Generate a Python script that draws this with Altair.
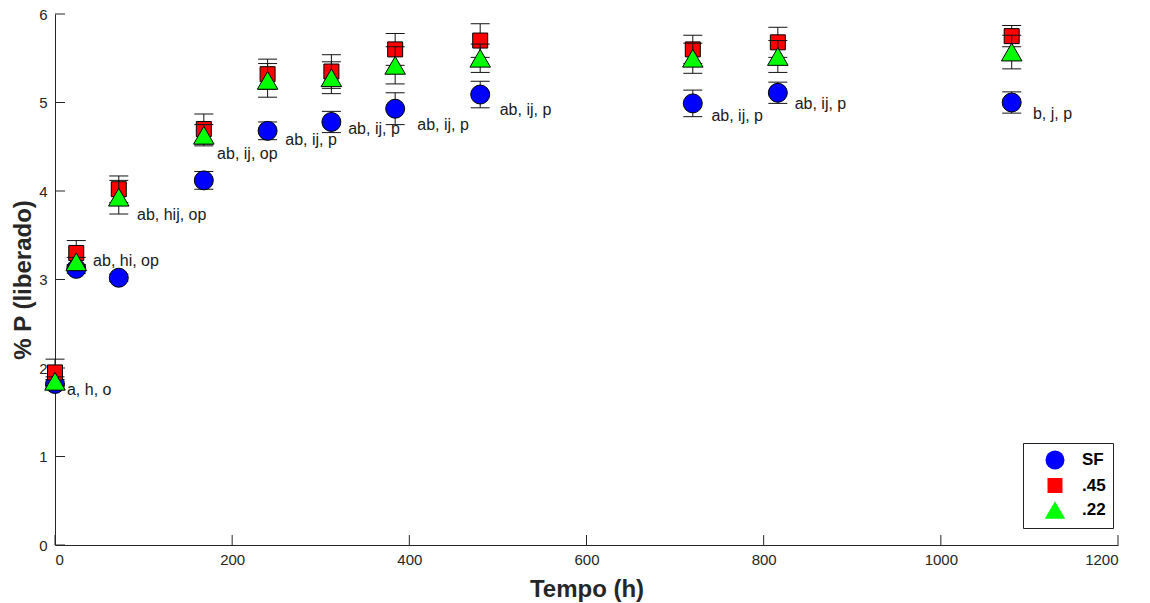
import altair as alt
import pandas as pd

# ---- data ----
tempo = [0, 24, 72, 168, 240, 312, 384, 480, 720, 816, 1080]
sf = [1.82, 3.12, 3.02, 4.12, 4.68, 4.78, 4.93, 5.09, 4.99, 5.11, 5.00]
sf_err = [0.05, 0.05, 0.04, 0.10, 0.10, 0.12, 0.18, 0.15, 0.15, 0.12, 0.12]
p45 = [1.95, 3.30, 4.02, 4.70, 5.32, 5.35, 5.60, 5.70, 5.60, 5.68, 5.75]
p45_err = [0.15, 0.14, 0.15, 0.17, 0.17, 0.19, 0.18, 0.19, 0.16, 0.17, 0.12]
p22 = [1.85, 3.20, 3.93, 4.63, 5.25, 5.28, 5.42, 5.50, 5.50, 5.52, 5.57]
p22_err = [0.05, 0.05, 0.19, 0.12, 0.19, 0.18, 0.21, 0.16, 0.17, 0.18, 0.19]

series_names = ["SF", ".45", ".22"]
series_fill = ["#0000ff", "#ff0000", "#00ff00"]
series_shape = ["circle", "square", "triangle-up"]
series_size = [360, 225, 420]

labels = ["a, h, o", "ab, hi, op", "ab, hij, op", "ab, ij, op", "ab, ij, p",
          "ab, ij, p", "ab, ij, p", "ab, ij, p", "ab, ij, p", "ab, ij, p", "b, j, p"]
label_x = [13.5, 43, 92.6, 183, 260, 331, 409, 502, 741, 835, 1104]
label_y = [1.75, 3.21, 3.73, 4.42, 4.58, 4.70, 4.75, 4.92, 4.85, 4.98, 4.87]

x_ticks = [0, 200, 400, 600, 800, 1000, 1200]
y_ticks = [0, 1, 2, 3, 4, 5, 6]

W, H = 1063, 531
FONT = "Liberation Sans"
INK = "#262626"

rows = []
for name, vals, errs in zip(series_names, [sf, p45, p22], [sf_err, p45_err, p22_err]):
    for t, v, e in zip(tempo, vals, errs):
        rows.append({"serie": name, "t": t, "v": v, "lo": v - e, "hi": v + e})
df = pd.DataFrame(rows)

xs = alt.Scale(domain=[0, 1200], nice=False, zero=False)
ys = alt.Scale(domain=[0, 6], nice=False, zero=False)

x_axis = alt.Axis(values=x_ticks, format="d", tickSize=0, grid=False, labelFontSize=15,
                  labelColor=INK, labelFont=FONT, labelPadding=7, domainColor=INK,
                  title="Tempo (h)", titleFontSize=24, titleFont=FONT,
                  titleFontWeight="bold", titleColor=INK, titlePadding=10)
y_axis = alt.Axis(values=y_ticks, format="d", tickSize=0, grid=False, labelFontSize=15,
                  labelColor=INK, labelFont=FONT, labelPadding=8, domainColor=INK,
                  title="% P (liberado)", titleFontSize=24, titleFont=FONT,
                  titleFontWeight="bold", titleColor=INK, titlePadding=3)

base = alt.Chart(df)

# inward ticks (MATLAB style)
xt = alt.Chart(pd.DataFrame({"t": x_ticks})).mark_rule(color=INK, strokeWidth=1).encode(
    x=alt.X("t:Q", scale=xs, axis=x_axis), y=alt.value(H), y2=alt.value(H - 10))
yt = alt.Chart(pd.DataFrame({"v": y_ticks})).mark_rule(color=INK, strokeWidth=1).encode(
    y=alt.Y("v:Q", scale=ys, axis=y_axis), x=alt.value(0), x2=alt.value(10))

fill_enc = alt.Fill("serie:N", scale=alt.Scale(domain=series_names, range=series_fill),
                    legend=alt.Legend(title=None))
shape_enc = alt.Shape("serie:N", scale=alt.Scale(domain=series_names, range=series_shape),
                      legend=alt.Legend(title=None))
size_enc = alt.Size("serie:N", scale=alt.Scale(type="ordinal", domain=series_names, range=series_size),
                    legend=alt.Legend(title=None))

layers = [xt, yt]
for name in series_names:
    sub = base.transform_filter(alt.datum.serie == name)
    bar = sub.mark_rule(color="#111111", strokeWidth=1).encode(
        x=alt.X("t:Q", scale=xs), y=alt.Y("lo:Q", scale=ys), y2="hi:Q")
    cap_lo = sub.mark_tick(orient="horizontal", color="#111111", thickness=1, size=19, opacity=1).encode(
        x=alt.X("t:Q", scale=xs), y=alt.Y("lo:Q", scale=ys))
    cap_hi = sub.mark_tick(orient="horizontal", color="#111111", thickness=1, size=19, opacity=1).encode(
        x=alt.X("t:Q", scale=xs), y=alt.Y("hi:Q", scale=ys))
    pts = sub.mark_point(filled=True, stroke="black", strokeWidth=1, opacity=1).encode(
        x=alt.X("t:Q", scale=xs), y=alt.Y("v:Q", scale=ys),
        fill=fill_enc, shape=shape_enc, size=size_enc)
    layers += [bar, cap_lo, cap_hi, pts]

txt = alt.Chart(pd.DataFrame({"lab": labels, "lx": label_x, "ly": label_y})).mark_text(
    align="left", baseline="middle", fontSize=16, font=FONT, color="#1a1a1a").encode(
    x=alt.X("lx:Q", scale=xs), y=alt.Y("ly:Q", scale=ys), text="lab:N")
layers.append(txt)

chart = alt.layer(*layers).properties(
    width=W, height=H,
    autosize=alt.AutoSizeParams(type="none"),
    padding={"left": 55, "top": 14, "right": 32, "bottom": 58},
).configure_view(stroke=None).configure_legend(
    orient="none", legendX=968, legendY=429,
    strokeColor="#222222", fillColor="white", padding=7,
    symbolOffset=14, labelOffset=16, rowPadding=4,
    labelFontSize=17, labelFontWeight="bold", labelFont=FONT, labelColor="black",
    symbolStrokeColor="black", symbolStrokeWidth=1, symbolType="circle",
).configure_axis(ticks=False)

chart.save("out.html", embed_options={"renderer": "svg", "actions": False})
